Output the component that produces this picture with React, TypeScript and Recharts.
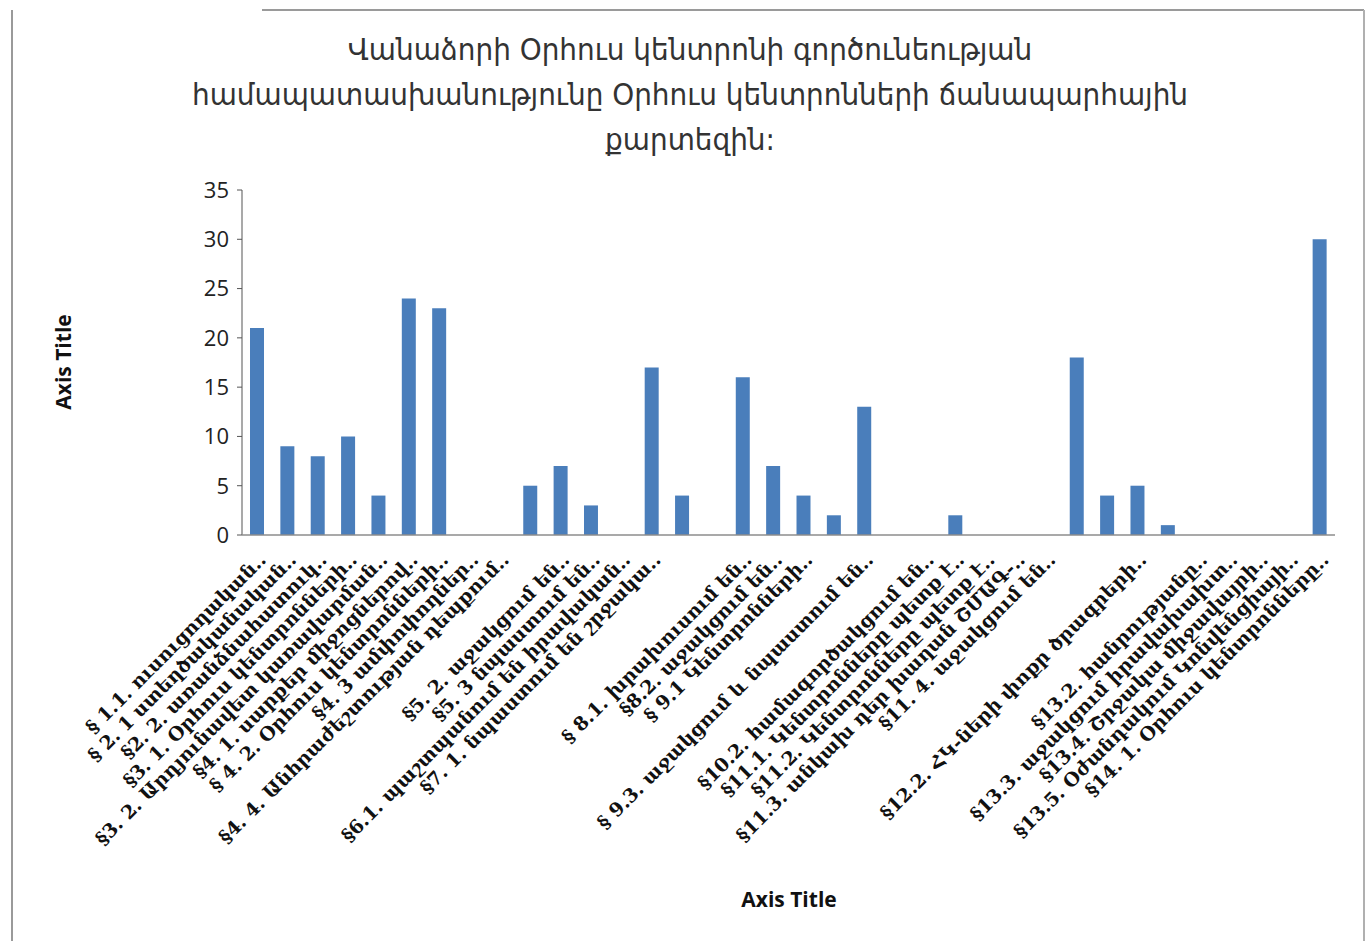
import React from "react";
import { BarChart, Bar, XAxis, YAxis } from "recharts";

const titleLines = [
  "Վանաձորի Օրհուս կենտրոնի գործունեության",
  "համապատասխանությունը Օրհուս կենտրոնների ճանապարհային",
  "քարտեզին:",
];

const categoryLabels = [
  "§ 1.1.      ուսուցողական..",
  "§ 2. 1 ստեղծականական..",
  "§2. 2. առանձնահատուկ..",
  "§3. 1. Օրհուս կենտրոնների..",
  "§3. 2. Արդյունավետ կառավարման..",
  "§4. 1. սարքեր  միջոցներով..",
  "§ 4. 2. Օրհուս կենտրոնների..",
  "§4. 3 ամփոփողներ..",
  "§4. 4. Անհրաժեշտության դեպքում..",
  "",
  "§5. 2. աջակցում են..",
  "§5. 3 նպաստում  են..",
  "§6.1. պաշտպանում են իրավական..",
  "§7. 1. նպաստում են շրջակա..",
  "",
  "",
  "§ 8.1. խրախուսում են..",
  "§8.2. աջակցում են..",
  "§ 9.1 Կենտրոնների..",
  "",
  "§ 9.3.  աջակցում և նպաստում են..",
  "",
  "§10.2. համագործակցում են..",
  "§11.1. Կենտրոնները պետք է..",
  "§11.2. Կենտրոնները  պետք է..",
  "§11.3. անկախ դեր խաղան ՇՄԱԳ-..",
  "§11. 4. աջակցում են..",
  "",
  "",
  "§12.2. ՀԿ-ների փոքր ծրագրերի..",
  "",
  "§13.2. հանրությանը..",
  "§13.3. աջակցում իրավախախտ..",
  "§13.4. Շրջակա միջավայրի..",
  "§13.5. Օժանդակում Կոնվենցիայի..",
  "§14. 1. Օրհուս կենտրոնները..",
];

const seriesValues = [
  21, 9, 8, 10, 4, 24, 23, 0, 0, 5, 7, 3, 0, 17, 4, 0, 16, 7, 4, 2, 13, 0, 0, 2, 0, 0, 0, 18, 4, 5, 1, 0, 0, 0, 0, 30,
];

const yTicks = [0, 5, 10, 15, 20, 25, 30, 35];

const data = seriesValues.map((v, i) => ({ id: i, value: v }));

const LabelTick = (props: any) => {
  const { x, y, payload } = props;
  const label = categoryLabels[payload.value] || "";
  return (
    <text
      transform={`translate(${x + 10},${y + 18}) rotate(-45)`}
      textAnchor="end"
      fontFamily="'DejaVu Serif', serif"
      fontWeight="bold"
      fontSize={19}
      fill="#111"
    >
      {label}
    </text>
  );
};

export default function App() {
  return (
    <div style={{ position: "absolute", left: 0, top: 0, width: 1372, height: 941, background: "#fff", overflow: "hidden" }}>
      <div style={{ position: "absolute", left: 11, top: 10, width: 2, height: 931, background: "#9a9a9a" }} />
      <div style={{ position: "absolute", left: 262, top: 9, width: 1102, height: 2, background: "#9a9a9a" }} />
      <div style={{ position: "absolute", left: 1363, top: 10, width: 2, height: 931, background: "#b0b0b0" }} />
      <div
        style={{
          position: "absolute",
          left: 0,
          top: 27,
          width: 1380,
          textAlign: "center",
          fontFamily: "'DejaVu Sans Condensed', 'DejaVu Sans', sans-serif",
          fontSize: 31,
          lineHeight: "45px",
          color: "#333",
        }}
      >
        {titleLines.map((t, i) => (
          <div key={i}>{t}</div>
        ))}
      </div>
      <div
        style={{
          position: "absolute",
          left: 63,
          top: 362,
          transform: "translate(-50%, -50%) rotate(-90deg)",
          fontFamily: "'Open Sans', sans-serif",
          fontWeight: "bold",
          fontSize: 21,
          whiteSpace: "nowrap",
          color: "#111",
        }}
      >
        Axis Title
      </div>
      <div
        style={{
          position: "absolute",
          left: 789,
          top: 899,
          transform: "translate(-50%, -50%)",
          fontFamily: "'Open Sans', sans-serif",
          fontWeight: "bold",
          fontSize: 21,
          whiteSpace: "nowrap",
          color: "#111",
        }}
      >
        Axis Title
      </div>
      <div style={{ position: "absolute", left: 0, top: 0 }}>
        <BarChart
          width={1372}
          height={941}
          data={data}
          margin={{ top: 190, right: 37, left: 177, bottom: 76 }}
          barSize={14}
        >
          <XAxis
            dataKey="id"
            type="category"
            interval={0}
            tickLine={false}
            axisLine={{ stroke: "#8c8c8c", strokeWidth: 1.5 }}
            height={330}
            tick={<LabelTick />}
          />
          <YAxis
            domain={[0, 35]}
            ticks={yTicks}
            width={65}
            tickLine={{ stroke: "#555" }}
            tickSize={5}
            tickMargin={8}
            axisLine={{ stroke: "#8c8c8c", strokeWidth: 1.5 }}
            tick={{ fontFamily: "'Open Sans', sans-serif", fontSize: 22, fill: "#222" }}
          />
          <Bar dataKey="value" fill="#4a7ebb" isAnimationActive={false} />
        </BarChart>
      </div>
    </div>
  );
}
